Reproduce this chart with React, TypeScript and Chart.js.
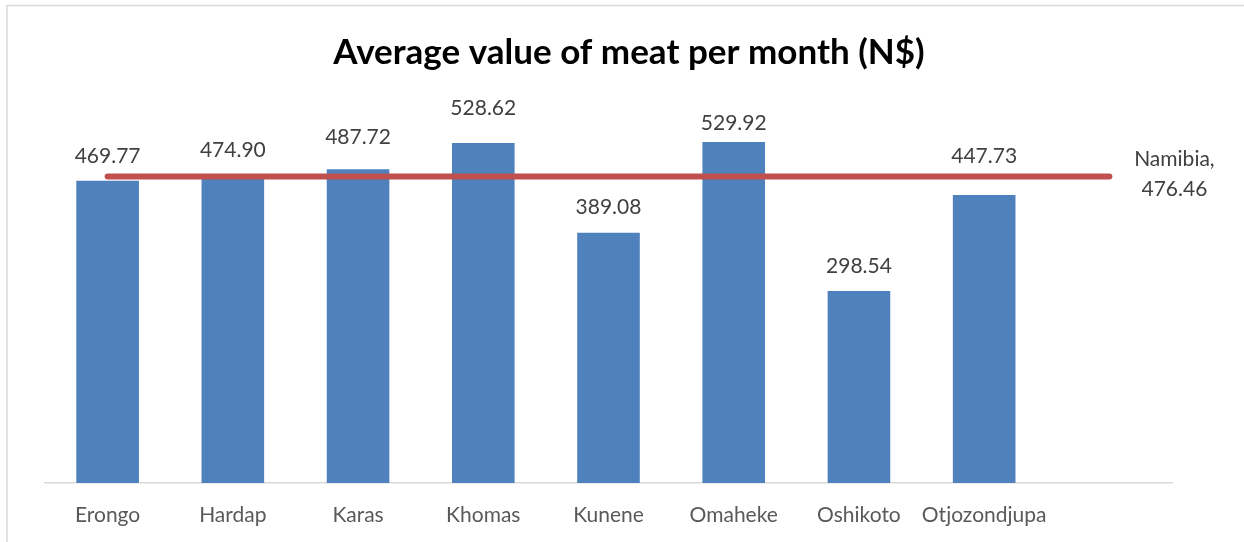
import React, { useEffect, useRef } from "react";
import { Chart, registerables } from "chart.js";

Chart.register(...registerables);

const categories = ["Erongo", "Hardap", "Karas", "Khomas", "Kunene", "Omaheke", "Oshikoto", "Otjozondjupa", ""];
const regionValues = [469.77, 474.9, 487.72, 528.62, 389.08, 529.92, 298.54, 447.73, null];
const namibiaValues = [476.46, 476.46, 476.46, 476.46, 476.46, 476.46, 476.46, 476.46, 476.46];
const namibiaLabelLines = ["Namibia,", "476.46"];
const titleText = "Average value of meat per month (N$)";

// styling: how far (px) each value label's centre sits above its bar top
const labelLift = [25, 27, 32, 35, 25, 19, 25, 39];

const FONT = "Lato, 'Open Sans', sans-serif";
const BAR_COLOR = "#4F81BD";
const LINE_COLOR = "#C0504D";

const overlayPlugin = {
  id: "overlay",
  afterDraw(chart: any) {
    const ctx = chart.ctx;
    ctx.save();
    // frame (top + left edges)
    ctx.strokeStyle = "#D9D9D9";
    ctx.lineWidth = 1.5;
    ctx.beginPath();
    ctx.moveTo(7, 542);
    ctx.lineTo(7, 5.5);
    ctx.lineTo(1244, 5.5);
    ctx.stroke();

    // title
    ctx.fillStyle = "#000000";
    ctx.font = `bold 35px ${FONT}`;
    ctx.textAlign = "center";
    ctx.textBaseline = "alphabetic";
    ctx.fillText(titleText, 629, 64);

    // bar value labels
    ctx.textBaseline = "middle";
    const barMeta = chart.getDatasetMeta(0);
    ctx.font = `21px ${FONT}`;
    ctx.fillStyle = "#404040";
    barMeta.data.forEach((el: any, i: number) => {
      const v = regionValues[i];
      if (v == null) return;
      ctx.fillText(v.toFixed(2), el.x, el.y - labelLift[i]);
    });

    // Namibia label at end of the line
    const lineMeta = chart.getDatasetMeta(1);
    const last = lineMeta.data[lineMeta.data.length - 1];
    if (last) {
      ctx.fillText(namibiaLabelLines[0], last.x + 65, last.y - 17);
      ctx.fillText(namibiaLabelLines[1], last.x + 65, last.y + 13);
    }
    ctx.restore();
  },
};

export default function App() {
  const ref = useRef<HTMLCanvasElement>(null);
  useEffect(() => {
    if (!ref.current) return;
    const chart = new Chart(ref.current, {
      type: "bar",
      data: {
        labels: categories,
        datasets: [
          {
            type: "bar",
            label: "Region",
            data: regionValues,
            backgroundColor: BAR_COLOR,
            borderWidth: 0,
            categoryPercentage: 1,
            barPercentage: 0.5,
            order: 2,
          } as any,
          {
            type: "line",
            label: "Namibia",
            data: namibiaValues,
            borderColor: LINE_COLOR,
            backgroundColor: LINE_COLOR,
            borderWidth: 6,
            borderCapStyle: "round",
            pointRadius: 0,
            tension: 0,
            order: 1,
          } as any,
        ],
      },
      options: {
        responsive: false,
        animation: false,
        layout: { padding: { left: 45, right: 72, top: 97, bottom: 0 } },
        plugins: {
          legend: { display: false },
          title: { display: false },
          tooltip: { enabled: false },
        },
        scales: {
          x: {
            grid: { display: false, drawTicks: false },
            border: { display: true, color: "#D9D9D9", width: 1.5 },
            ticks: {
              color: "#595959",
              font: { family: FONT, size: 21 },
              padding: 20,
              maxRotation: 0,
              autoSkip: false,
            },
            afterFit: (scale: any) => {
              scale.height = 59;
            },
          },
          y: {
            display: false,
            min: 0,
            max: 600,
          },
        },
      },
      plugins: [overlayPlugin],
    });
    return () => chart.destroy();
  }, []);
  return (
    <div style={{ position: "absolute", left: 0, top: 0, width: 1244, height: 542, background: "#fff" }}>
      <canvas ref={ref} width={1244} height={542} />
    </div>
  );
}
